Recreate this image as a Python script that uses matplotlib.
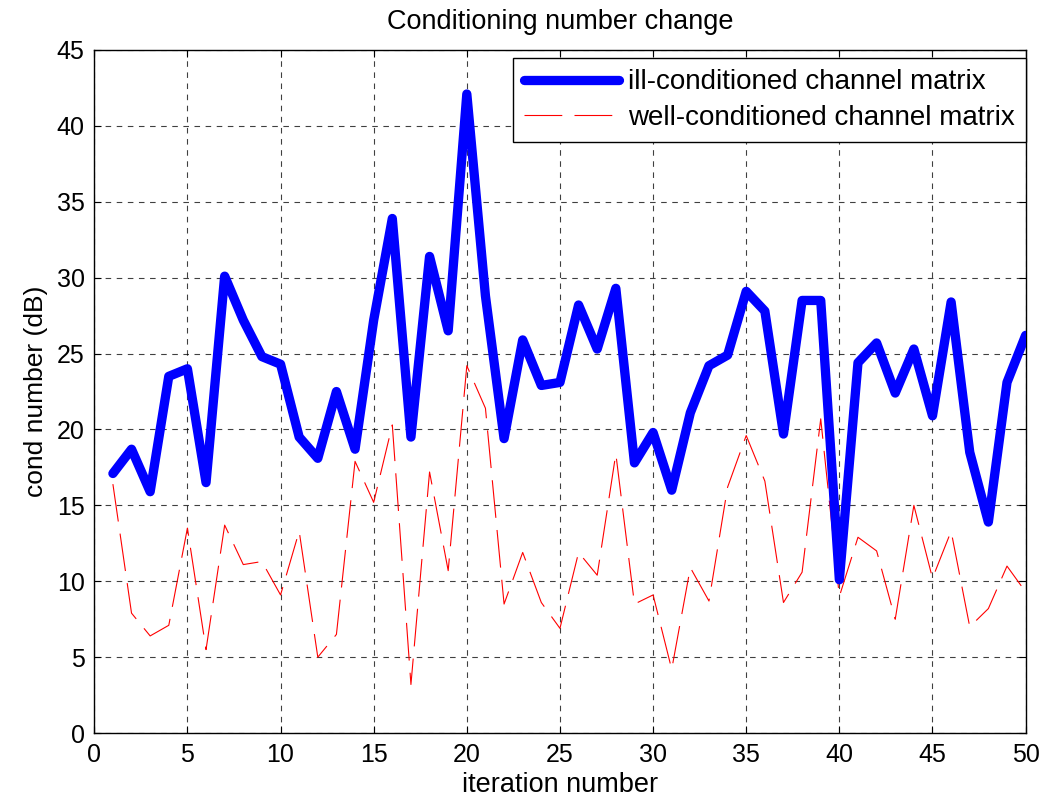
import numpy as np
import matplotlib.pyplot as plt

plt.rcParams.update({
    'font.family': ['Liberation Sans', 'DejaVu Sans'],
    'font.size': 18,
})

iterations = np.arange(1, 51)

ill_conditioned = [
    17.1, 18.7, 15.9, 23.5, 24.0, 16.5, 30.1, 27.2, 24.8, 24.3,
    19.5, 18.1, 22.5, 18.7, 27.2, 33.9, 19.5, 31.4, 26.5, 42.1,
    28.8, 19.4, 25.9, 22.9, 23.1, 28.2, 25.3, 29.3, 17.8, 19.8,
    16.0, 21.1, 24.2, 24.9, 29.1, 27.8, 19.7, 28.5, 28.5, 10.1,
    24.4, 25.7, 22.4, 25.3, 20.9, 28.4, 18.5, 13.9, 23.1, 26.2,
]

well_conditioned = [
    16.4, 7.9, 6.4, 7.1, 13.5, 5.5, 13.7, 11.1, 11.3, 9.1,
    13.3, 5.0, 6.5, 17.9, 15.2, 20.3, 3.2, 17.2, 10.7, 24.2,
    21.4, 8.5, 11.9, 8.6, 6.9, 11.9, 10.4, 18.4, 8.5, 9.1,
    4.2, 10.9, 8.7, 16.2, 19.6, 16.6, 8.6, 10.6, 20.7, 9.0,
    12.9, 12.0, 7.5, 15.0, 10.2, 13.3, 7.0, 8.2, 11.0, 9.3,
]

fig = plt.figure(figsize=(10.44, 8.01), dpi=100)
ax = fig.add_axes([0.0903, 0.0848, 0.8921, 0.8528])

ax.plot(iterations, ill_conditioned, color='#0000ff', linewidth=6.7,
        solid_joinstyle='round', solid_capstyle='round',
        label='ill-conditioned channel matrix', zorder=3)
ax.plot(iterations, well_conditioned, color='#ff0000', linewidth=0.8,
        dashes=(34, 11), label='well-conditioned channel matrix', zorder=2)

ax.set_xlim(0, 50)
ax.set_ylim(0, 45)
ax.set_xticks(np.arange(0, 51, 5))
ax.set_yticks(np.arange(0, 46, 5))

ax.grid(True, color='black', linestyle=(0, (5, 5)), linewidth=0.8, alpha=0.75)
ax.tick_params(direction='in', length=5, width=0.8, top=True, right=True,
               labelsize=18, pad=7)
for spine in ax.spines.values():
    spine.set_linewidth(1.0)

ax.set_title('Conditioning number change', fontsize=19.5, pad=15)
ax.set_xlabel('iteration number', fontsize=19.5, labelpad=4)
ax.set_ylabel('cond number (dB)', fontsize=19, labelpad=6)

# legend box sits flush with the right spine, just under the top one
leg = ax.legend(loc='upper right', bbox_to_anchor=(1.0, 0.988),
                fontsize=20, handlelength=3.4, borderaxespad=0,
                fancybox=False, framealpha=1, edgecolor='black',
                borderpad=0.4, labelspacing=0.35, handletextpad=0.32)
leg.get_frame().set_linewidth(1.0)

fig.savefig('out.png', dpi=100)
